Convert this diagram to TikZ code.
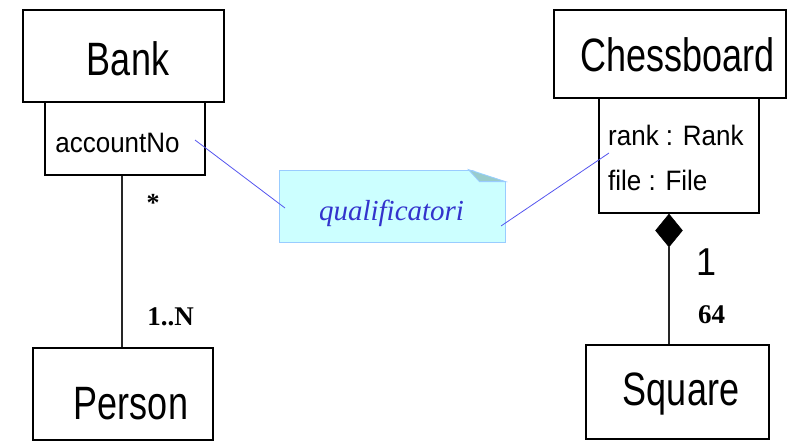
\documentclass[tikz,border=0pt]{standalone}
\usepackage{fontspec}
\setmainfont{Liberation Serif}
\setsansfont{Liberation Sans}
\usetikzlibrary{shapes.geometric,calc}
\definecolor{notefill}{HTML}{CCFFFF}
\definecolor{noteline}{HTML}{99CCFF}
\definecolor{foldfill}{HTML}{99CCCC}
\definecolor{qualblue}{HTML}{3333CC}
\definecolor{linkblue}{HTML}{5555EE}
\newcommand{\bigsans}[1]{\sffamily\fontsize{36}{36}\selectfont\scalebox{1}[1.3]{#1}}
\newcommand{\midsans}[1]{\sffamily\fontsize{26}{26}\selectfont\scalebox{1}[1.08]{#1}}
\begin{document}
\begin{tikzpicture}[x=1pt,y=-1pt,
  umlbox/.style={draw=black, line width=1.5pt, inner sep=0pt},
  boxtext/.style={anchor=base, inner sep=0pt},
  attrtext/.style={anchor=base west, inner sep=0pt},
  assoc/.style={draw=black!85, line width=1.3pt},
  mult/.style={anchor=base, inner sep=0pt, font=\bfseries\fontsize{27}{27}\selectfont},
  link/.style={draw=linkblue, line width=0.8pt}]
\useasboundingbox (0,0) rectangle (787,444);
% Bank side
\node[umlbox, minimum width=201pt, minimum height=92pt] (bank) at (123.5,56) {};
\node[umlbox, minimum width=160pt, minimum height=73pt] (bankq) at (125,138.5) {};
\node[umlbox, minimum width=180pt, minimum height=92pt] (person) at (123,394) {};
\node[boxtext] (bankt) at (128,75) {\bigsans{Bank}};
\node[boxtext] (persont) at (131,419) {\bigsans{Person}};
\node[boxtext] (acct) at (117.5,152) {\midsans{accountNo}};
\draw[assoc] ($(bankq.south)+(-3,0)$) -- ($(person.north)+(-1,0)$);
\node[mult, font=\bfseries\fontsize{26}{26}\selectfont] (star) at (153,211) {*};
\node[mult] (onen) at (170.5,325) {1..N};
% Chessboard side
\node[umlbox, minimum width=232pt, minimum height=88pt] (chess) at (670,54) {};
\node[umlbox, minimum width=160pt, minimum height=115pt] (chessq) at (679,155.5) {};
\node[umlbox, minimum width=183pt, minimum height=94pt] (square) at (677.5,392) {};
\node[boxtext] (chesst) at (677.5,72) {\bigsans{Chessboard}};
\node[boxtext] (squaret) at (681,405) {\bigsans{Square}};
\node[attrtext] (rankt) at (608,145) {\midsans{rank : Rank}};
\node[attrtext] (filet) at (608,190) {\midsans{file : File}};
\node[diamond, fill=black, draw=black, line width=0.5pt, minimum width=27pt, minimum height=33pt, inner sep=0pt, anchor=north] (dia) at ($(chessq.south)+(-10,0)$) {};
\draw[assoc] (dia.south) -- (dia.south |- square.north);
\node[boxtext] (one) at (707,275) {\sffamily\fontsize{36}{36}\selectfont\scalebox{1}[1.08]{1}};
\node[mult] (sixtyfour) at (711.5,323) {64};
% Note
\node[draw=noteline, fill=notefill, line width=0.8pt, minimum width=226pt, minimum height=72pt, inner sep=0pt] (note) at (392,206) {};
\fill[white] ($(note.north east)+(-37,-1)$) -- ($(note.north east)+(1,-1)$) -- ($(note.north east)+(1,12)$) -- cycle;
\filldraw[fill=foldfill, draw=noteline, line width=0.8pt] ($(note.north east)+(-37,0)$) -- ($(note.north east)+(0,12)$) -- ($(note.north east)+(-26,12)$) -- cycle;
\node[anchor=base, inner sep=0pt, text=qualblue, font=\itshape\fontsize{29}{29}\selectfont] (qual) at (391.5,220) {qualificatori};
\coordinate (la) at (195,140);
\coordinate (lb) at (285,208);
\coordinate (ra) at (501,226);
\coordinate (rb) at (609,153);
\draw[link] (la) -- (lb);
\draw[link] (ra) -- (rb);
\end{tikzpicture}
\end{document}
